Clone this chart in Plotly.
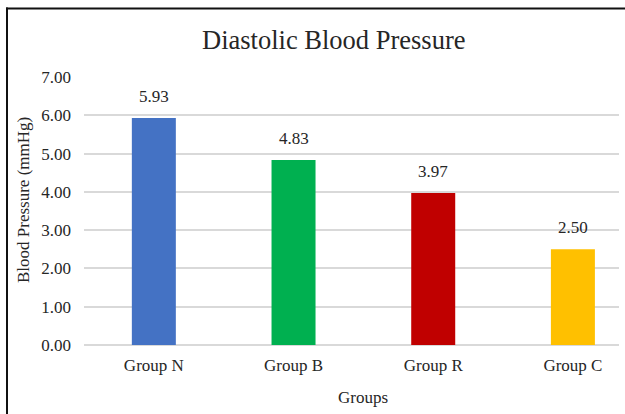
import plotly.graph_objects as go

categories = ["Group N", "Group B", "Group R", "Group C"]
values = [5.93, 4.83, 3.97, 2.50]
colors = ["#4472C4", "#00B050", "#C00000", "#FFC000"]
tick_vals = [0, 1, 2, 3, 4, 5, 6, 7]
tick_text = ["0.00", "1.00", "2.00", "3.00", "4.00", "5.00", "6.00", "7.00"]

W, H = 625, 414
L, R, T, B = 84, 6, 77, 69
FONT = "Liberation Serif"
TXT = "#262626"

fig = go.Figure()
fig.add_trace(go.Bar(
    x=categories, y=values, marker=dict(color=colors, line=dict(width=0)),
    width=0.315, hoverinfo="skip",
))

for c, v in zip(categories, values):
    fig.add_annotation(x=c, y=v, text=f"{v:.2f}", showarrow=False,
                       yanchor="bottom", yshift=10,
                       font=dict(family=FONT, size=17, color=TXT))

def px_x(p):
    return (p - L) / (W - L - R)

def px_y(p):
    return (H - B - p) / (H - T - B)

fig.add_annotation(text="Diastolic Blood Pressure", xref="paper", yref="paper",
                   x=px_x(334), y=px_y(40), showarrow=False,
                   xanchor="center", yanchor="middle",
                   font=dict(family=FONT, size=26.5, color=TXT))
fig.add_annotation(text="Groups", xref="paper", yref="paper",
                   x=px_x(363), y=px_y(397), showarrow=False,
                   xanchor="center", yanchor="middle",
                   font=dict(family=FONT, size=17, color=TXT))
fig.add_annotation(text="Blood Pressure (mmHg)", xref="paper", yref="paper",
                   x=px_x(23), y=px_y(200), showarrow=False, textangle=-90,
                   xanchor="center", yanchor="middle",
                   font=dict(family=FONT, size=17, color=TXT))

# white strip at the right edge of the chart area
fig.add_shape(type="rect", xref="paper", yref="paper",
              x0=px_x(619.5), x1=px_x(640), y0=px_y(10), y1=px_y(430),
              line=dict(width=0), fillcolor="white", layer="above")
# chart-area border (top and left edges visible)
fig.add_shape(type="line", xref="paper", yref="paper",
              x0=px_x(6), x1=px_x(640), y0=px_y(8.5), y1=px_y(8.5),
              line=dict(color="#111111", width=2), layer="above")
fig.add_shape(type="line", xref="paper", yref="paper",
              x0=px_x(7), x1=px_x(7), y0=px_y(7.5), y1=px_y(430),
              line=dict(color="#111111", width=2), layer="above")

fig.update_layout(
    width=W, height=H,
    margin=dict(l=L, r=R, t=T, b=B, pad=0),
    paper_bgcolor="white", plot_bgcolor="white",
    showlegend=False,
    font=dict(family=FONT, size=17, color=TXT),
    xaxis=dict(range=[-0.5, 3.33], showgrid=False, showline=False,
               zeroline=False,
               ticks="", tickfont=dict(family=FONT, size=17, color=TXT),
               ticklabelstandoff=8, fixedrange=True),
    yaxis=dict(range=[0, 7], tickvals=tick_vals, ticktext=tick_text,
               showgrid=True, gridcolor="#d9d9d9", gridwidth=1.5,
               zeroline=True, zerolinecolor="#d9d9d9", zerolinewidth=1.5,
               showline=False, ticks="", ticklabelstandoff=12,
               tickfont=dict(family=FONT, size=17, color=TXT), fixedrange=True),
)

fig.write_html(
    "out.html",
    config={"displayModeBar": False},
    post_script="document.body.style.margin='0';document.body.style.overflow='hidden';",
)
